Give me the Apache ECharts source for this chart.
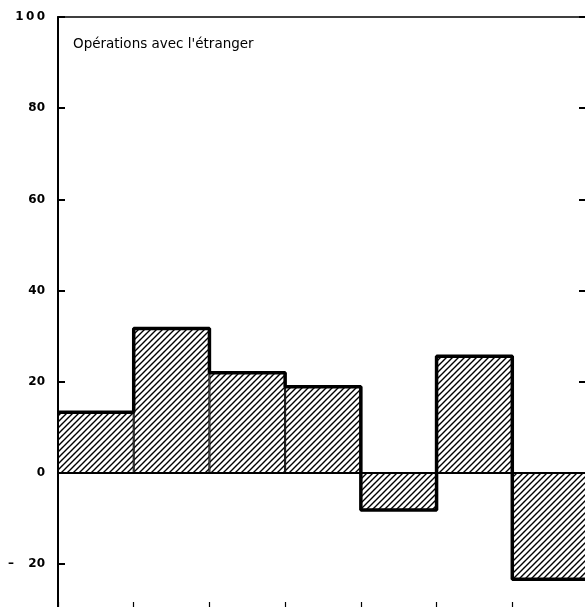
<!DOCTYPE html>
<html>
<head>
<meta charset="utf-8">
<script src="https://cdn.jsdelivr.net/npm/echarts@6/dist/echarts.min.js"></script>
<style>
html,body{margin:0;padding:0;background:#fff;}
#chart{width:585px;height:607px;}
</style>
</head>
<body>
<div id="chart"></div>
<script>
// ---- data ----
var categories = ['1', '2', '3', '4', '5', '6', '7'];
var values = [13.3, 31.7, 22.0, 18.9, -8.1, 25.6, -23.3];
var tickLabels = {'-20': '\u2013\u2003\u200920', '0': '0', '20': '20', '40': '40', '60': '60', '80': '80', '100': '1\u20090\u20090'};
var title = "Opérations avec l'étranger";

// hatch pattern
var pc = document.createElement('canvas');
var P = 6;
pc.width = P; pc.height = P;
var ctx = pc.getContext('2d');
ctx.fillStyle = '#fff';
ctx.fillRect(0, 0, P, P);
ctx.strokeStyle = '#000';
ctx.lineWidth = 1.4;
ctx.beginPath();
ctx.moveTo(-1, P + 1); ctx.lineTo(P + 1, -1);
ctx.moveTo(-1, 1); ctx.lineTo(1, -1);
ctx.moveTo(P - 1, P + 1); ctx.lineTo(P + 1, P - 1);
ctx.stroke();

// step outline built from the values
var stepData = values.map(function (v, i) { return [i, v]; });
stepData.push([values.length, values[values.length - 1]]);

var chart = echarts.init(document.getElementById('chart'), null, {renderer: 'canvas'});
var font = 'DejaVu Sans';
chart.setOption({
  animation: false,
  backgroundColor: '#fff',
  grid: [
    {left: 58, top: 17, width: 530, height: 638.4, show: true, borderColor: '#000', borderWidth: 1.5,
     containLabel: false, outerBoundsMode: 'none'},
    {left: 58, top: 560, width: 530, height: 50, show: false, containLabel: false, outerBoundsMode: 'none'}
  ],
  xAxis: [
    {type: 'category', data: categories, gridIndex: 0, show: false},
    {type: 'value', min: 0, max: values.length, gridIndex: 0, show: false},
    {type: 'category', data: categories, gridIndex: 1, position: 'bottom',
     axisLine: {show: false}, axisLabel: {show: false},
     axisTick: {show: true, inside: true, length: 8, lineStyle: {color: '#000', width: 1.2}},
     splitLine: {show: false}}
  ],
  yAxis: [
    {type: 'value', min: -40, max: 100, interval: 20, gridIndex: 0,
     axisLine: {show: true, lineStyle: {color: '#000', width: 2}},
     axisTick: {show: true, inside: true, length: 7, lineStyle: {color: '#000', width: 2}},
     splitLine: {show: false},
     axisLabel: {margin: 13, color: '#000', fontFamily: font, fontWeight: 'bold', fontSize: 12,
       formatter: function (v) { return tickLabels[String(v)] || ''; }}},
    {type: 'value', min: -40, max: 100, interval: 20, position: 'right', gridIndex: 0,
     axisLine: {show: true, lineStyle: {color: '#000', width: 2}},
     axisTick: {show: true, inside: true, length: 9, lineStyle: {color: '#000', width: 2}},
     splitLine: {show: false}, axisLabel: {show: false}},
    {type: 'value', min: 0, max: 1, gridIndex: 1, show: false}
  ],
  graphic: [
    {type: 'text', left: 73, top: 37, style: {text: title, fill: '#000', font: '13.5px "DejaVu Sans"'}}
  ],
  series: [
    {type: 'bar', data: values, barCategoryGap: 0, xAxisIndex: 0, yAxisIndex: 0,
     itemStyle: {color: {image: pc, repeat: 'repeat'}, borderColor: '#000', borderWidth: 1},
     markLine: {silent: true, symbol: 'none', label: {show: false},
       lineStyle: {color: '#000', width: 2, type: 'solid'}, data: [{yAxis: 0}]}},
    {type: 'line', data: stepData, xAxisIndex: 1, yAxisIndex: 0, step: 'end', showSymbol: false, symbol: 'none',
     lineStyle: {color: '#000', width: 3.5}, z: 5}
  ]
});
</script>
</body>
</html>
